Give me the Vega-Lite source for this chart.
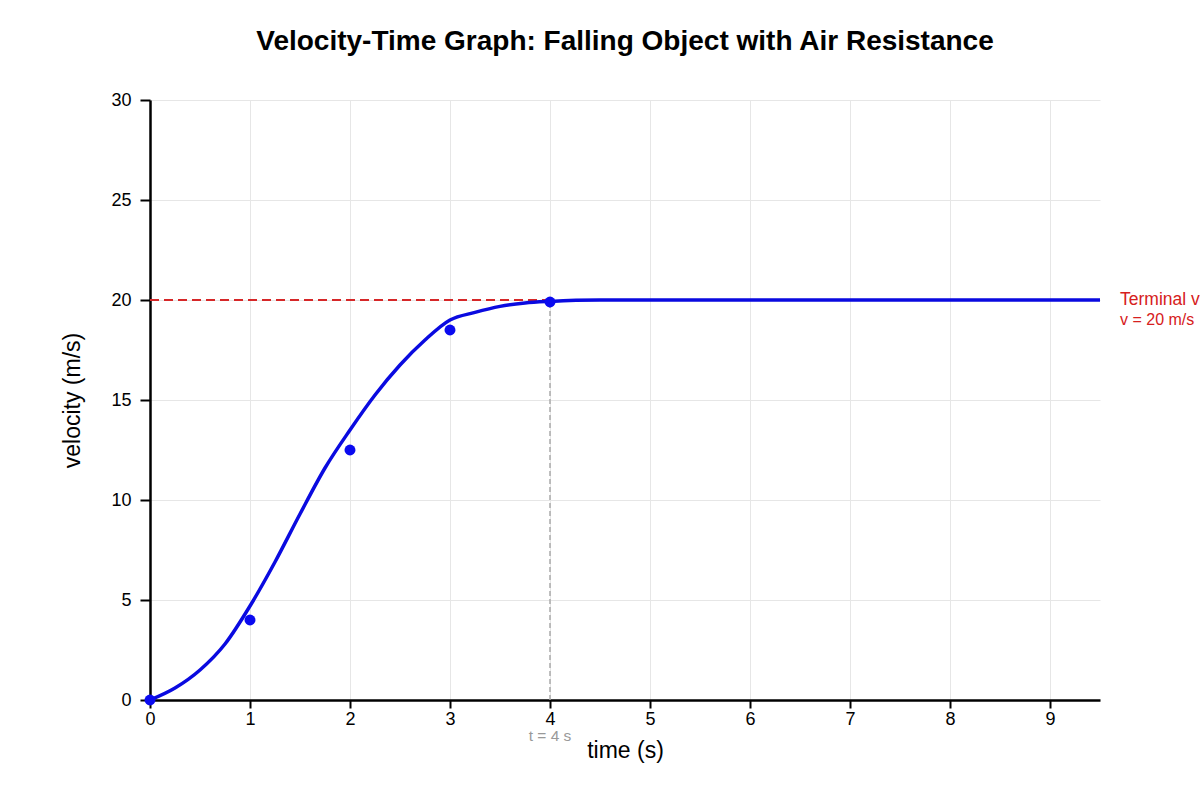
{
  "$schema": "https://vega.github.io/schema/vega-lite/v6.json",
  "width": 950,
  "height": 600,
  "autosize": {"type": "none"},
  "padding": {"left": 150, "top": 100, "right": 150, "bottom": 100},
  "background": "white",
  "config": {
    "font": "Liberation Sans",
    "view": {"stroke": null},
    "axis": {
      "domainColor": "black",
      "domainWidth": 2.5,
      "tickColor": "black",
      "tickWidth": 2,
      "tickSize": 9,
      "labelColor": "black",
      "labelFontSize": 18,
      "labelFlush": false,
      "labelOverlap": false,
      "titleFontSize": 23,
      "titleFontWeight": "normal",
      "titleColor": "black",
      "gridColor": "#e6e6e6",
      "gridWidth": 1
    }
  },
  "title": {
    "text": "Velocity-Time Graph: Falling Object with Air Resistance",
    "fontSize": 28,
    "fontWeight": "bold",
    "color": "black",
    "anchor": "middle",
    "offset": 35
  },
  "datasets": {
    "curve": [
      {"t": 0, "v": 0},
      {"t": 0.25, "v": 0.6},
      {"t": 0.5, "v": 1.5},
      {"t": 0.75, "v": 2.8},
      {"t": 1, "v": 4.7},
      {"t": 1.25, "v": 6.9},
      {"t": 1.5, "v": 9.3},
      {"t": 1.75, "v": 11.6},
      {"t": 2, "v": 13.5},
      {"t": 2.25, "v": 15.25},
      {"t": 2.5, "v": 16.75},
      {"t": 2.75, "v": 18.0},
      {"t": 3, "v": 19.0},
      {"t": 3.25, "v": 19.38},
      {"t": 3.5, "v": 19.68},
      {"t": 3.75, "v": 19.85},
      {"t": 4, "v": 19.93},
      {"t": 4.5, "v": 20},
      {"t": 5, "v": 20},
      {"t": 6, "v": 20},
      {"t": 7, "v": 20},
      {"t": 8, "v": 20},
      {"t": 9, "v": 20},
      {"t": 9.5, "v": 20}
    ],
    "measured": [
      {"t": 0, "v": 0},
      {"t": 1, "v": 4},
      {"t": 2, "v": 12.5},
      {"t": 3, "v": 18.5},
      {"t": 4, "v": 19.9}
    ],
    "terminal": [{"t0": 0, "t1": 4, "v": 20}],
    "vmark": [{"t": 4, "v0": 0, "v1": 20}],
    "labels": [
      {"t": 9.7, "v": 20, "text": "Terminal velocity", "size": 17.5},
      {"t": 9.7, "v": 19, "text": "v = 20 m/s", "size": 16}
    ],
    "tlabel": [{"t": 4, "text": "t = 4 s"}]
  },
  "layer": [
    {
      "data": {"name": "terminal"},
      "mark": {"type": "rule", "color": "#d62728", "strokeWidth": 2, "strokeDash": [9, 5]},
      "encoding": {
        "x": {"field": "t0", "type": "quantitative", "scale": {"domain": [0, 9.5], "nice": false}, "axis": {"title": "time (s)", "values": [0,1,2,3,4,5,6,7,8,9], "format": "d", "titlePadding": 11, "labelPadding": 2, "tickSize": 8}},
        "x2": {"field": "t1"},
        "y": {"field": "v", "type": "quantitative", "scale": {"domain": [0, 30], "nice": false}, "axis": {"title": "velocity (m/s)", "values": [0,5,10,15,20,25,30], "titlePadding": 26, "labelPadding": 9, "tickSize": 10}}
      }
    },
    {
      "data": {"name": "vmark"},
      "mark": {"type": "rule", "color": "#aaaaaa", "strokeWidth": 1.5, "strokeDash": [5, 3]},
      "encoding": {
        "x": {"field": "t", "type": "quantitative"},
        "y": {"field": "v0", "type": "quantitative"},
        "y2": {"field": "v1"}
      }
    },
    {
      "data": {"name": "curve"},
      "mark": {"type": "line", "color": "#0a0ae0", "strokeWidth": 3.5, "interpolate": "monotone"},
      "encoding": {
        "x": {"field": "t", "type": "quantitative"},
        "y": {"field": "v", "type": "quantitative"}
      }
    },
    {
      "data": {"name": "measured"},
      "mark": {"type": "point", "filled": true, "color": "#0a0af0", "opacity": 1, "size": 120},
      "encoding": {
        "x": {"field": "t", "type": "quantitative"},
        "y": {"field": "v", "type": "quantitative"}
      }
    },
    {
      "data": {"name": "labels"},
      "mark": {"type": "text", "color": "#d62020", "align": "left", "baseline": "middle", "clip": false},
      "encoding": {
        "x": {"field": "t", "type": "quantitative"},
        "y": {"field": "v", "type": "quantitative"},
        "text": {"field": "text"},
        "size": {"field": "size", "type": "quantitative", "scale": null}
      }
    },
    {
      "data": {"name": "tlabel"},
      "mark": {"type": "text", "color": "#999999", "fontSize": 15.5, "align": "center", "baseline": "middle", "dy": 36, "y": 600},
      "encoding": {
        "x": {"field": "t", "type": "quantitative"},
        "text": {"field": "text"}
      }
    }
  ]
}
